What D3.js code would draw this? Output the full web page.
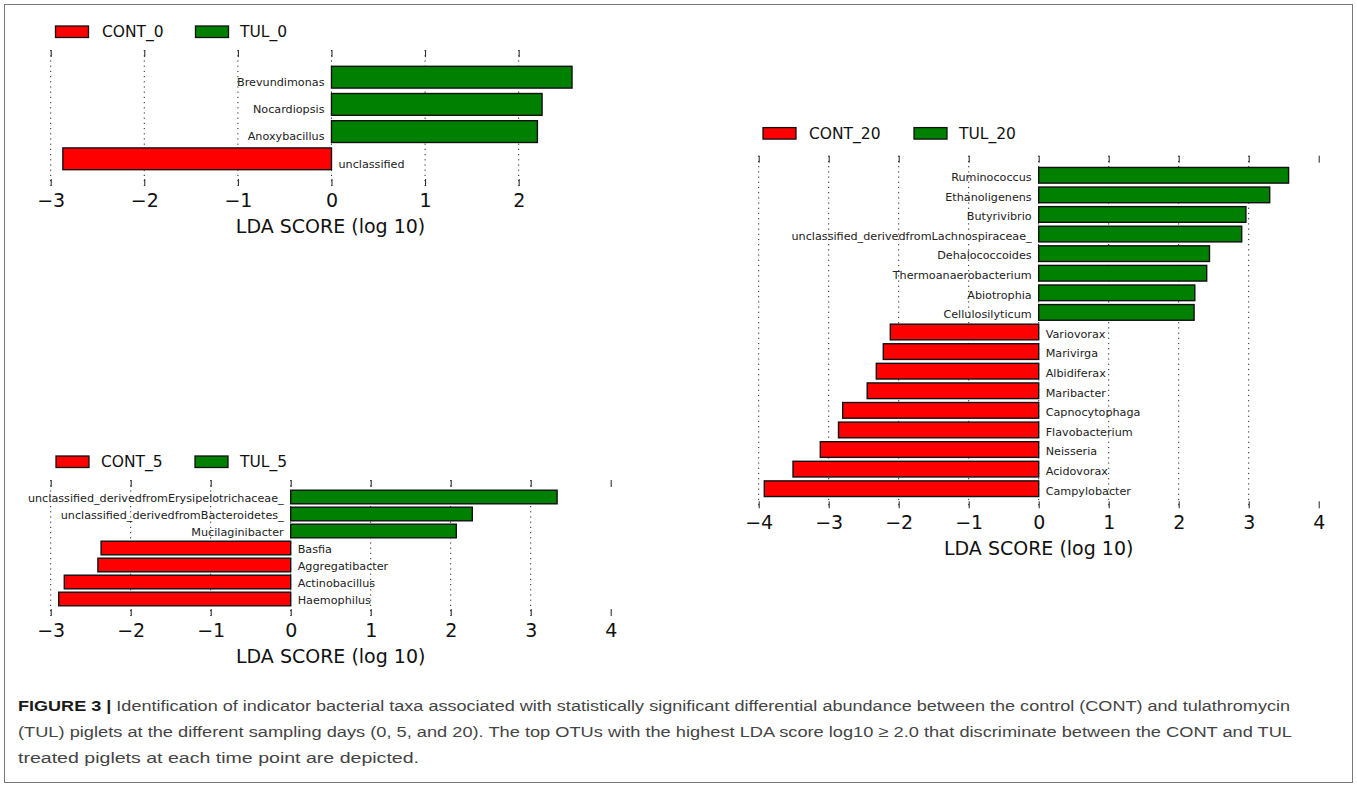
<!DOCTYPE html>
<html>
<head>
<meta charset="utf-8">
<script src="https://cdn.jsdelivr.net/npm/d3@7"></script>
<style>
	body { margin: 0; background: #fff; }
	svg { display: block; }
	.chartText { font-family: "DejaVu Sans", sans-serif; fill: #111; }
	.caption { font-family: "Liberation Sans", Arial, sans-serif; font-size: 15.5px; fill: #444; }
</style>
</head>
<body>
<svg id="figure" width="1357" height="787"></svg>
<script>
document.addEventListener("DOMContentLoaded", function() {

	// day 0
	var taxa_0 = ["Brevundimonas", "Nocardiopsis", "Anoxybacillus", "unclassified"];
	var scores_0 = [2.57, 2.25, 2.20, -2.87];
	var legend_0 = ["CONT_0", "TUL_0"];
	var ticks_0 = [-3, -2, -1, 0, 1, 2];

	// day 5
	var taxa_5 = ["unclassified_derivedfromErysipelotrichaceae_", "unclassified_derivedfromBacteroidetes_",
		"Mucilaginibacter", "Basfia", "Aggregatibacter", "Actinobacillus", "Haemophilus"];
	var scores_5 = [3.33, 2.27, 2.07, -2.37, -2.41, -2.83, -2.90];
	var legend_5 = ["CONT_5", "TUL_5"];
	var ticks_5 = [-3, -2, -1, 0, 1, 2, 3, 4];

	// day 20
	var taxa_20 = ["Ruminococcus", "Ethanoligenens", "Butyrivibrio", "unclassified_derivedfromLachnospiraceae_",
		"Dehalococcoides", "Thermoanaerobacterium", "Abiotrophia", "Cellulosilyticum",
		"Variovorax", "Marivirga", "Albidiferax", "Maribacter", "Capnocytophaga",
		"Flavobacterium", "Neisseria", "Acidovorax", "Campylobacter"];
	var scores_20 = [3.57, 3.30, 2.96, 2.90, 2.44, 2.40, 2.23, 2.22,
		-2.12, -2.22, -2.32, -2.45, -2.80, -2.86, -3.12, -3.51, -3.92];
	var legend_20 = ["CONT_20", "TUL_20"];
	var ticks_20 = [-4, -3, -2, -1, 0, 1, 2, 3, 4];

	var captionLines = [
		["FIGURE 3 |", " Identification of indicator bacterial taxa associated with statistically significant differential abundance between the control (CONT) and tulathromycin"],
		["", "(TUL) piglets at the different sampling days (0, 5, and 20). The top OTUs with the highest LDA score log10 \u2265 2.0 that discriminate between the CONT and TUL"],
		["", "treated piglets at each time point are depicted."]
	];

	const color = {cont: "#ff0000", tul: "#008000"};

	var svg = d3.select("#figure");

	// outer frame
	svg.append("rect")
		.attr("x", 4.5).attr("y", 4.5)
		.attr("width", 1348).attr("height", 778)
		.attr("fill", "none")
		.attr("stroke", "#777")
		.attr("stroke-width", 1);

	// layout of the three panels
	var panels = [
		{taxa: taxa_0, scores: scores_0, legend: legend_0, ticks: ticks_0, domain: [-3, 2.98],
			left: 50.7, right: 610.4, top: 50, bottom: 186,
			legendY: 31.7, legendX: [55.5, 102, 195.5, 240]},
		{taxa: taxa_5, scores: scores_5, legend: legend_5, ticks: ticks_5, domain: [-3, 4],
			left: 50.7, right: 610.7, top: 480, bottom: 616,
			legendY: 461.7, legendX: [56, 101, 195, 240]},
		{taxa: taxa_20, scores: scores_20, legend: legend_20, ticks: ticks_20, domain: [-4, 4],
			left: 758.7, right: 1318.7, top: 155.7, bottom: 508.3,
			legendY: 133.3, legendX: [763, 809, 914, 959]}
	];

	panels.forEach(function(p) { drawPanel(p); });

	function drawPanel(p) {

		var x = d3.scaleLinear()
			.domain(p.domain)
			.range([p.left, p.right]);

		var y = d3.scaleBand()
			.domain(p.taxa)
			.range([p.top, p.bottom])
			.paddingInner(0.2)
			.paddingOuter(0.6);

		var g = svg.append("g");

		// dotted grid
		g.selectAll(".grid")
			.data(p.ticks.filter(d => d < p.domain[1]))
			.enter()
			.append("line")
				.attr("class", "grid")
				.attr("x1", d => x(d)).attr("x2", d => x(d))
				.attr("y1", p.top).attr("y2", p.bottom)
				.attr("stroke", "#222")
				.attr("stroke-width", 1)
				.attr("stroke-dasharray", "1.2,4");

		// bars
		var rows = p.taxa.map((t, i) => ({taxon: t, score: p.scores[i]}));

		g.selectAll(".bar")
			.data(rows)
			.enter()
			.append("rect")
				.attr("class", "bar")
				.attr("x", d => x(Math.min(0, d.score)))
				.attr("y", d => y(d.taxon))
				.attr("width", d => Math.abs(x(d.score) - x(0)))
				.attr("height", y.bandwidth())
				.attr("fill", d => d.score < 0 ? color.cont : color.tul)
				.attr("stroke", "#111")
				.attr("stroke-width", 1.4);

		// taxon names beside the zero line
		g.selectAll(".taxon")
			.data(rows)
			.enter()
			.append("text")
				.attr("class", "chartText taxon")
				.attr("x", d => d.score < 0 ? x(0) + 7 : x(0) - 7)
				.attr("y", d => y(d.taxon) + y.bandwidth() - 2)
				.attr("text-anchor", d => d.score < 0 ? "start" : "end")
				.attr("font-size", "11.2px")
				.style("fill", "#222")
				.text(d => d.taxon);

		// ticks on bottom (with labels) and on top
		var xAxis = d3.axisBottom(x)
			.tickValues(p.ticks)
			.tickFormat(d3.format("d"))
			.tickSizeInner(-7)
			.tickSizeOuter(0)
			.tickPadding(7.5);

		var bottomAxis = g.append("g")
			.attr("transform", "translate(0," + p.bottom + ")")
			.call(xAxis);
		bottomAxis.select(".domain").remove();
		bottomAxis.selectAll("line").attr("stroke", "#222");
		bottomAxis.selectAll("text")
			.attr("class", "chartText")
			.attr("font-size", "19px")
			.attr("y", 7.5);

		var topAxis = g.append("g")
			.attr("transform", "translate(0," + p.top + ")")
			.call(d3.axisTop(x).tickValues(p.ticks).tickSizeInner(-7).tickSizeOuter(0).tickFormat(""));
		topAxis.select(".domain").remove();
		topAxis.selectAll("line").attr("stroke", "#222");

		// axis title
		g.append("text")
			.attr("class", "chartText")
			.attr("x", (p.left + p.right) / 2)
			.attr("y", p.bottom + 47)
			.attr("text-anchor", "middle")
			.attr("font-size", "19px")
			.text("LDA SCORE (log 10)");

		// legend
		var legendColors = [color.cont, color.tul];
		p.legend.forEach(function(name, i) {
			g.append("rect")
				.attr("x", p.legendX[i * 2])
				.attr("y", p.legendY - 5.7)
				.attr("width", 33)
				.attr("height", 11.5)
				.attr("fill", legendColors[i])
				.attr("stroke", "#111")
				.attr("stroke-width", 1.3);
			g.append("text")
				.attr("class", "chartText")
				.attr("x", p.legendX[i * 2 + 1])
				.attr("y", p.legendY)
				.attr("dy", "0.36em")
				.attr("font-size", "15.5px")
				.text(name);
		});
	}

	// caption
	var captionWidths = [1272, 1274, 401];
	captionLines.forEach(function(line, i) {
		var t = svg.append("text")
			.attr("class", "caption")
			.attr("x", 18)
			.attr("y", 711 + i * 26)
			.attr("textLength", captionWidths[i])
			.attr("lengthAdjust", "spacingAndGlyphs");
		if (line[0] !== "") {
			t.append("tspan")
				.attr("font-weight", "bold")
				.style("fill", "#1a1a1a")
				.text(line[0]);
		}
		t.append("tspan").text(line[1]);
	});
});
</script>
</body>
</html>
